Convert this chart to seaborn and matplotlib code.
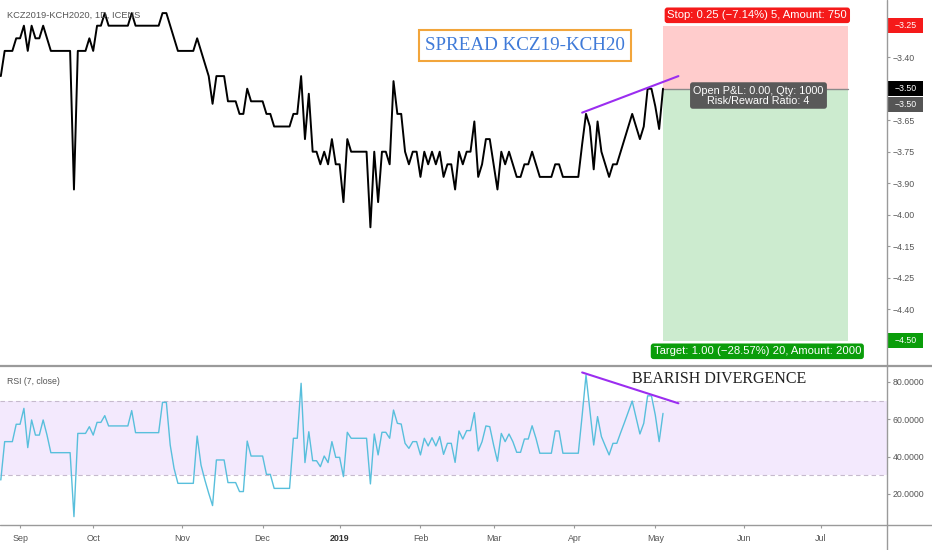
import matplotlib
matplotlib.use("Agg")
import matplotlib.pyplot as plt
import matplotlib.transforms as mtransforms
from matplotlib.patches import Rectangle
from matplotlib.lines import Line2D
import numpy as np
import pandas as pd
import seaborn as sns

# ---------------- data ----------------
price = [
    -3.45, -3.35, -3.35, -3.35, -3.30, -3.30, -3.25, -3.35, -3.25, -3.30,
    -3.30, -3.25, -3.30, -3.35, -3.35, -3.35, -3.35, -3.35, -3.35, -3.90,
    -3.35, -3.35, -3.35, -3.30, -3.35, -3.25, -3.25, -3.20, -3.25, -3.25,
    -3.25, -3.25, -3.25, -3.25, -3.20, -3.25, -3.25, -3.25, -3.25, -3.25,
    -3.25, -3.25, -3.20, -3.20, -3.25, -3.30, -3.35, -3.35, -3.35, -3.35,
    -3.35, -3.30, -3.35, -3.40, -3.45, -3.56, -3.45, -3.45, -3.45, -3.55,
    -3.55, -3.55, -3.60, -3.60, -3.50, -3.55, -3.55, -3.55, -3.55, -3.60,
    -3.60, -3.65, -3.65, -3.65, -3.65, -3.65, -3.60, -3.60, -3.45, -3.70,
    -3.52, -3.75, -3.75, -3.80, -3.75, -3.80, -3.70, -3.80, -3.80, -3.95,
    -3.70, -3.75, -3.75, -3.75, -3.75, -3.75, -4.05, -3.75, -3.95, -3.75,
    -3.75, -3.80, -3.47, -3.60, -3.60, -3.75, -3.80, -3.75, -3.75, -3.85,
    -3.75, -3.80, -3.75, -3.80, -3.75, -3.85, -3.80, -3.80, -3.90, -3.75,
    -3.80, -3.75, -3.75, -3.63, -3.85, -3.80, -3.70, -3.70, -3.80, -3.90,
    -3.75, -3.80, -3.75, -3.80, -3.85, -3.85, -3.80, -3.80, -3.75, -3.80,
    -3.85, -3.85, -3.85, -3.85, -3.80, -3.80, -3.85, -3.85, -3.85, -3.85,
    -3.85, -3.72, -3.60, -3.65, -3.82, -3.63, -3.75, -3.80, -3.85, -3.80,
    -3.80, -3.75, -3.70, -3.65, -3.60, -3.65, -3.70, -3.65, -3.50, -3.50,
    -3.57, -3.66, -3.50,
]

rsi = [
    27.5, 48.0, 48.0, 48.0, 57.3, 57.3, 65.8, 44.8, 59.6, 51.5,
    51.5, 59.6, 51.5, 42.1, 42.1, 42.1, 42.1, 42.1, 42.1, 7.9,
    52.4, 52.4, 52.4, 56.0, 51.5, 58.3, 58.3, 61.9, 56.4, 56.4,
    56.4, 56.4, 56.4, 56.4, 64.6, 52.8, 52.8, 52.8, 52.8, 52.8,
    52.8, 52.8, 69.0, 69.0, 46.2, 33.7, 25.7, 25.7, 25.7, 25.7,
    25.7, 51.0, 35.5, 27.5, 20.4, 13.8, 38.2, 38.2, 38.2, 26.1,
    26.1, 26.1, 21.3, 21.3, 48.3, 40.3, 40.3, 40.3, 40.3, 30.5,
    30.5, 23.0, 23.0, 23.0, 23.0, 23.0, 49.8, 49.8, 79.2, 36.8,
    53.3, 37.8, 37.8, 34.6, 40.3, 36.8, 48.0, 39.6, 39.6, 29.3,
    53.0, 49.8, 49.8, 49.8, 49.8, 49.8, 25.4, 52.1, 40.9, 53.0,
    53.0, 49.8, 64.9, 57.8, 57.4, 47.1, 44.4, 48.0, 48.0, 40.9,
    49.8, 45.7, 50.1, 45.7, 50.7, 41.2, 47.1, 47.1, 36.9, 53.7,
    49.4, 53.9, 53.9, 63.5, 43.0, 48.0, 56.4, 56.0, 46.2, 37.5,
    52.4, 48.0, 52.1, 48.0, 42.3, 42.3, 49.4, 49.4, 56.5, 49.8,
    41.8, 41.8, 41.8, 41.8, 53.7, 53.7, 41.8, 41.8, 41.8, 41.8,
    41.8, 62.0, 83.6, 65.0, 46.2, 61.4, 50.7, 45.7, 40.9, 47.1,
    47.1, 52.8, 58.3, 64.0, 69.7, 60.8, 52.1, 57.8, 72.5, 72.5,
    62.2, 48.0, 63.1,
]

month_labels = ["Sep", "Oct", "Nov", "Dec", "2019", "Feb", "Mar", "Apr", "May", "Jun", "Jul"]
month_bars = [5, 24, 47, 68, 88, 109, 128, 149, 170, 193, 213]

price_tick_values = [-3.25, -3.375, -3.5, -3.625, -3.75, -3.875, -4.0, -4.125, -4.25, -4.375, -4.5]
price_tick_labels = ["\u22123.25", "\u22123.40", "\u22123.50", "\u22123.65", "\u22123.75", "\u22123.90",
                     "\u22124.00", "\u22124.15", "\u22124.25", "\u22124.40", "\u22124.50"]
rsi_tick_values = [80, 60, 40, 20]
rsi_tick_labels = ["80.0000", "60.0000", "40.0000", "20.0000"]

entry_price = -3.50
stop_price = -3.25
target_price = -4.50
position_start_bar = 172
position_end_bar = 220

stop_text = "Stop: 0.25 (\u22127.14%) 5, Amount: 750"
target_text = "Target: 1.00 (\u221228.57%) 20, Amount: 2000"
pnl_text = "Open P&L: 0.00, Qty: 1000\nRisk/Reward Ratio: 4"
title_text = "KCZ2019-KCH2020, 1D, ICENS"

# divergence trendlines (bar, value)
price_trend_bars = [151, 176]
price_trend_vals = [-3.595, -3.45]
rsi_trend_bars = [151, 176]
rsi_trend_vals = [85.0, 68.5]

# ---------------- style ----------------
sns.set_theme(style="white")
plt.rcParams["font.family"] = ["Liberation Sans", "DejaVu Sans"]

W, H = 932, 550
fig = plt.figure(figsize=(W / 100, H / 100), dpi=100)
fig.patch.set_facecolor("white")

ax_w = 887 / W
ax1 = fig.add_axes([0, 1 - 366 / H, ax_w, 366 / H])
ax2 = fig.add_axes([0, 1 - 525 / H, ax_w, (525 - 366) / H])

XLIM = (-0.21, 230.18)
grey_txt = "#555555"
axis_col = "#9a9a9a"
purple = "#9b2df0"

df_p = pd.DataFrame({"bar": np.arange(len(price)), "price": price})
df_r = pd.DataFrame({"bar": np.arange(len(rsi)), "rsi": rsi})

# ---------------- price panel ----------------
ax1.add_patch(Rectangle((position_start_bar, entry_price), position_end_bar - position_start_bar,
                        stop_price - entry_price, facecolor="#ffcccc", edgecolor="none", zorder=0))
ax1.add_patch(Rectangle((position_start_bar, target_price), position_end_bar - position_start_bar,
                        entry_price - target_price, facecolor="#ccebcf", edgecolor="none", zorder=0))
ax1.plot([position_start_bar, position_end_bar], [entry_price, entry_price], color="#8a8a8a", lw=1.0, zorder=1)

sns.lineplot(data=df_p, x="bar", y="price", ax=ax1, color="black", linewidth=1.4, zorder=3)
ax1.plot(price_trend_bars, price_trend_vals, color=purple, lw=1.5, zorder=4)

ax1.set_xlim(*XLIM)
ax1.set_ylim(-4.6004, -3.148)
ax1.set_xlabel("")
ax1.set_ylabel("")
ax1.set_xticks([])
ax1.yaxis.tick_right()
ax1.set_yticks(price_tick_values, price_tick_labels)
ax1.tick_params(axis="y", right=True, left=False, labelright=True, labelleft=False,
                length=2.4, width=0.8, color=axis_col, labelsize=6.3, labelcolor=grey_txt, pad=1.5)
# labels at the stop / entry / target levels are covered by coloured badges
for lab, val in zip(ax1.get_yticklabels(), price_tick_values):
    if val in (stop_price, entry_price, target_price):
        lab.set_visible(False)
for s in ax1.spines.values():
    s.set_visible(False)

# spread label box
ax1.add_patch(Rectangle((108.6, -3.390), 55.0, 0.123, facecolor="white", edgecolor="#f2a53b",
                        lw=1.5, zorder=5))
ax1.text(136.1, -3.3286, "SPREAD KCZ19-KCH20", family=["Liberation Serif", "DejaVu Serif"],
         fontsize=13.7, color="#3f7ad8", ha="center", va="center", zorder=6)

label_x = (position_start_bar + position_end_bar) / 2 + 0.5
ax1.text(label_x, -3.2087, stop_text, ha="center", va="center", color="white", fontsize=8.1, zorder=7,
         bbox=dict(boxstyle="round,pad=0.25,rounding_size=0.25", fc="#f51a1a", ec="none"))
ax1.text(label_x, -4.542, target_text, ha="center", va="center", color="white", fontsize=8.1, zorder=7,
         bbox=dict(boxstyle="round,pad=0.25,rounding_size=0.25", fc="#0a9d0a", ec="none"))
ax1.text(label_x + 0.3, -3.527, pnl_text, ha="center", va="center", color="white", fontsize=7.8,
         linespacing=1.0, multialignment="center", zorder=7,
         bbox=dict(boxstyle="round,pad=0.3,rounding_size=0.25", fc="#595959", ec="none"))

ax1.text(6.7 / 887, 1 - 15 / 366, title_text, transform=ax1.transAxes, ha="left", va="center",
         fontsize=6.7, color=grey_txt, zorder=8)

# coloured value badges on the price scale
trans1 = mtransforms.blended_transform_factory(ax1.transAxes, ax1.transData)
half_h = 7.5 / 252
def badge(yval, text, color):
    ax1.add_patch(Rectangle((888 / 887, yval - half_h), 35 / 887, 2 * half_h, transform=trans1,
                            facecolor=color, edgecolor="none", clip_on=False, zorder=9))
    ax1.text(905.5 / 887, yval, text, transform=trans1, ha="center", va="center", color="white",
             fontsize=6.3, clip_on=False, zorder=10)

badge(stop_price, "\u22123.25", "#f51a1a")
badge(entry_price, "\u22123.50", "#000000")
badge(entry_price - 15.3 / 252, "\u22123.50", "#555555")
badge(target_price, "\u22124.50", "#0a9d0a")

# ---------------- RSI panel ----------------
ax2.axhspan(30, 70, color="#f3e9fd", zorder=0, lw=0)
ax2.axhline(70, color="#c6bacd", lw=0.8, ls=(0, (4, 3)), zorder=1)
ax2.axhline(30, color="#c6bacd", lw=0.8, ls=(0, (4, 3)), zorder=1)
sns.lineplot(data=df_r, x="bar", y="rsi", ax=ax2, color="#58bfdc", linewidth=1.0, zorder=3)
ax2.plot(rsi_trend_bars, rsi_trend_vals, color=purple, lw=1.5, zorder=4)
ax2.text(186.5, 81.5, "BEARISH DIVERGENCE", family=["Liberation Serif", "DejaVu Serif"],
         fontsize=11.5, color="#222222", ha="center", va="center", zorder=5)

ax2.set_xlim(*XLIM)
ax2.set_ylim(3.42, 88.45)
ax2.set_xlabel("")
ax2.set_ylabel("")
ax2.yaxis.tick_right()
ax2.set_yticks(rsi_tick_values, rsi_tick_labels)
ax2.tick_params(axis="y", right=True, left=False, labelright=True, labelleft=False,
                length=2.4, width=0.8, color=axis_col, labelsize=6.3, labelcolor=grey_txt, pad=1.5)
ax2.set_xticks(month_bars, month_labels)
ax2.tick_params(axis="x", bottom=True, length=2.4, width=0.8, color=axis_col, labelsize=6.4,
                labelcolor=grey_txt, pad=4)
for lab in ax2.get_xticklabels():
    if lab.get_text() == "2019":
        lab.set_fontweight("bold")
        lab.set_color("#333333")
for s in ax2.spines.values():
    s.set_visible(False)

ax2.text(6.7 / 887, (525 - 381.7) / 159, "RSI (7, close)", transform=ax2.transAxes, ha="left",
         va="center", fontsize=6.3, color=grey_txt, zorder=8)

# ---------------- frame lines ----------------
fig.add_artist(Line2D([0, 1], [1 - 366 / H, 1 - 366 / H], transform=fig.transFigure, color=axis_col, lw=1.6))
fig.add_artist(Line2D([0, 1], [1 - 525 / H, 1 - 525 / H], transform=fig.transFigure, color=axis_col, lw=1.0))
fig.add_artist(Line2D([ax_w, ax_w], [0, 1], transform=fig.transFigure, color=axis_col, lw=1.0))

fig.savefig("out.png", dpi=100, facecolor="white")
